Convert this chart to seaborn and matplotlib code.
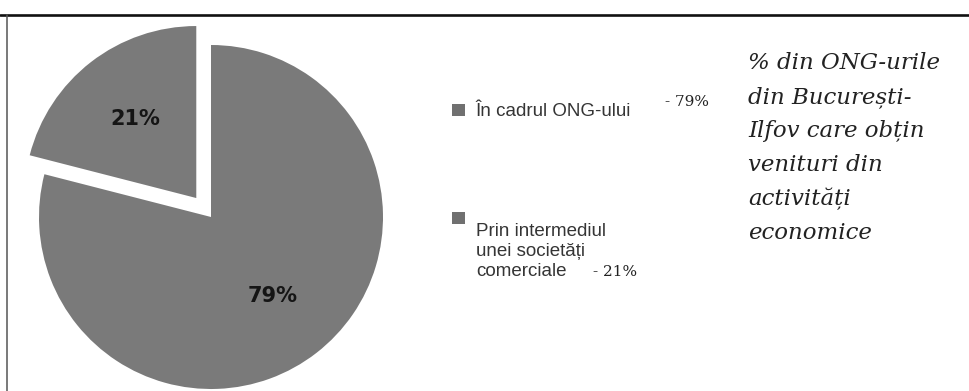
import matplotlib
matplotlib.use('Agg')
import matplotlib.pyplot as plt
import seaborn as sns
from matplotlib.lines import Line2D
from matplotlib.patches import Rectangle
from matplotlib.legend_handler import HandlerPatch

# date
categorii = ['În cadrul ONG-ului', 'Prin intermediul\nunei societăți\ncomerciale']
procente = [79, 21]
etichete_laterale = ['- 79%', '- 21%']
titlu = '% din ONG-urile\ndin București-\nIlfov care obțin\nvenituri din\nactivități\neconomice'

W, H = 969, 391
sns.set_theme(style='white')
plt.rcParams['font.family'] = ['DejaVu Sans']

fig = plt.figure(figsize=(W / 100, H / 100), dpi=100)
fig.patch.set_facecolor('white')
ax = fig.add_axes([0, 0, 1, 1])

gri = '#7a7a7a'
wedges, _, autotexts = ax.pie(
    procente, colors=[gri, gri], startangle=90, counterclock=False,
    explode=[0, 24], center=(211, H - 217), radius=172,
    autopct='%.0f%%', pctdistance=0.58,
    textprops=dict(fontsize=15, fontweight='bold', color='#151515'),
    wedgeprops=dict(linewidth=0))
ax.set_xlim(0, W)
ax.set_ylim(0, H)
ax.set_aspect('equal')
ax.axis('off')

# chenarul: linia de sus si marginea din stanga
ax.add_line(Line2D([0, W], [H - 15, H - 15], color='#111111', lw=1.9))
ax.add_line(Line2D([7, 7], [0, H - 15], color='#555555', lw=1.1))


def patratel(dy):
    # patratelul celei de-a doua intrari sta in dreptul primului rand
    def f(legend, orig_handle, xdescent, ydescent, width, height, fontsize):
        return Rectangle((-xdescent, -ydescent + dy), width, height,
                         facecolor='#707070')
    return HandlerPatch(patch_func=f)


leg = ax.legend(wedges, categorii, loc='upper left',
                bbox_to_anchor=(443 / W, 1 - 94 / H), frameon=False,
                prop=dict(family='Liberation Sans', size=13.5),
                labelcolor='#353535', handlelength=0.65, handleheight=0.65,
                handletextpad=0.6, labelspacing=5.5, borderpad=0,
                handler_map={wedges[0]: patratel(0), wedges[1]: patratel(24)})
for h in leg.legend_handles:
    h.set_facecolor('#707070')

ax.text(665, H - 102, etichete_laterale[0], fontsize=11, family='DejaVu Serif',
        color='#222222', va='center')
ax.text(593, H - 272, etichete_laterale[1], fontsize=11, family='DejaVu Serif',
        color='#222222', va='center')

ax.text(748, H - 52, titlu, fontsize=16.5, family='DejaVu Serif', style='italic',
        color='#222222', va='top', ha='left', linespacing=1.7)

fig.savefig('out.png', dpi=100)
